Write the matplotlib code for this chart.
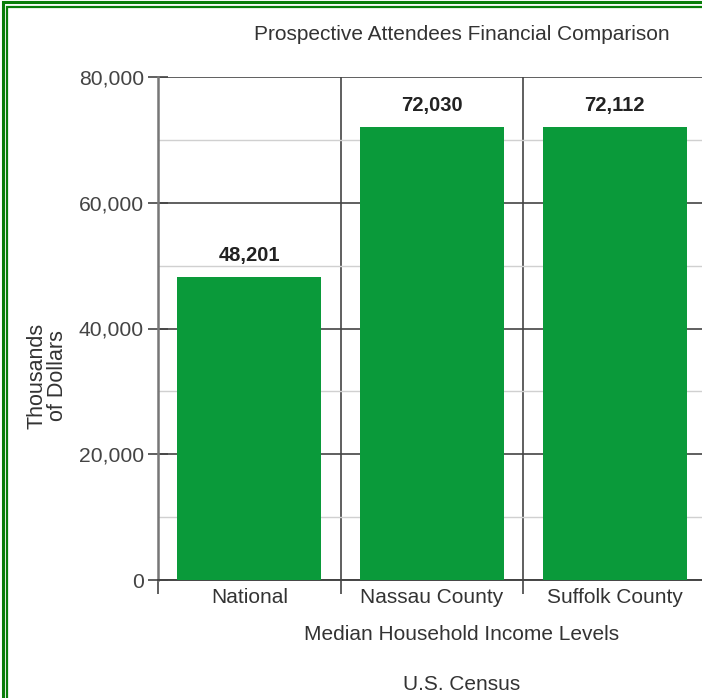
import matplotlib
matplotlib.use("Agg")
import matplotlib.pyplot as plt
from matplotlib.patches import Rectangle
from matplotlib.ticker import MultipleLocator, FuncFormatter

categories = ["National", "Nassau County", "Suffolk County"]
values = [48201, 72030, 72112]
value_labels = ["48,201", "72,030", "72,112"]
yticks = [0, 20000, 40000, 60000, 80000]

W, H = 702, 698
fig = plt.figure(figsize=(W / 100, H / 100), dpi=100)
fig.patch.set_facecolor("white")
plt.rcParams["font.family"] = ["Liberation Sans", "DejaVu Sans"]

# green double border
green = "#0a7d0a"
fig.patches.append(Rectangle((2.5 / W, -0.1), 1.2, 1.1 - 2.5 / H, transform=fig.transFigure,
                             fill=False, edgecolor=green, linewidth=2.2, zorder=10))
fig.patches.append(Rectangle((7 / W, -0.1), 1.2, 1.1 - 7 / H, transform=fig.transFigure,
                             fill=False, edgecolor=green, linewidth=1.6, zorder=10))

left, right, top, bottom = 158, 706, 77, 580
ax = fig.add_axes([left / W, 1 - bottom / H, (right - left) / W, (bottom - top) / H])
ax.set_xlim(0, 3)
ax.set_ylim(0, 80000)

dark = "#444444"
ax.yaxis.set_major_locator(MultipleLocator(20000))
ax.yaxis.set_minor_locator(MultipleLocator(10000))
ax.grid(axis="y", which="major", color=dark, linewidth=1.2, zorder=0)
ax.grid(axis="y", which="minor", color="#d0d0d0", linewidth=1.0, zorder=0)
ax.set_axisbelow(True)
for x in [1, 2]:
    ax.axvline(x, color=dark, linewidth=1.2, zorder=0.5)

xpos = [i + 0.5 for i in range(len(categories))]
ax.bar(xpos, values, width=0.79, color="#0a9a3a", edgecolor="none", zorder=3)
for x, v, lab in zip(xpos, values, value_labels):
    ax.text(x, v + 1900, lab, ha="center", va="bottom", fontsize=14.5,
            fontweight="bold", color="#222222")

ax.set_yticks(yticks)
ax.yaxis.set_major_formatter(FuncFormatter(lambda v, p: f"{int(v):,}"))
ax.tick_params(axis="y", which="major", direction="inout", length=14, width=1.2,
               color=dark, labelsize=15.2, labelcolor="#444444", pad=3)
ax.tick_params(axis="y", which="minor", length=0)

ax.set_xticks([0, 1, 2, 3])
ax.set_xticklabels([])
ax.tick_params(axis="x", which="major", direction="out", length=10, width=1.2, color=dark)
ax.set_xticks(xpos, minor=True)
ax.set_xticklabels(categories, minor=True)
ax.tick_params(axis="x", which="minor", length=0, labelsize=15, labelcolor="#333333", pad=6)

for s in ["top", "right"]:
    ax.spines[s].set_visible(False)
ax.spines["left"].set_color("#777777")
ax.spines["left"].set_linewidth(1.8)
ax.spines["bottom"].set_color(dark)
ax.spines["bottom"].set_linewidth(1.4)

fig.text(462 / W, 1 - 35 / H, "Prospective Attendees Financial Comparison", ha="center",
         va="center", fontsize=15, color="#333333")
fig.text(462 / W, 1 - 635 / H, "Median Household Income Levels", ha="center",
         va="center", fontsize=15, color="#333333")
fig.text(462 / W, 1 - 684 / H, "U.S. Census", ha="center",
         va="center", fontsize=15, color="#333333")
fig.text(47 / W, 1 - 376 / H, "Thousands\nof Dollars", ha="center", va="center",
         rotation=90, fontsize=15.5, color="#333333", linespacing=0.95)

fig.savefig("out.png", dpi=100)
